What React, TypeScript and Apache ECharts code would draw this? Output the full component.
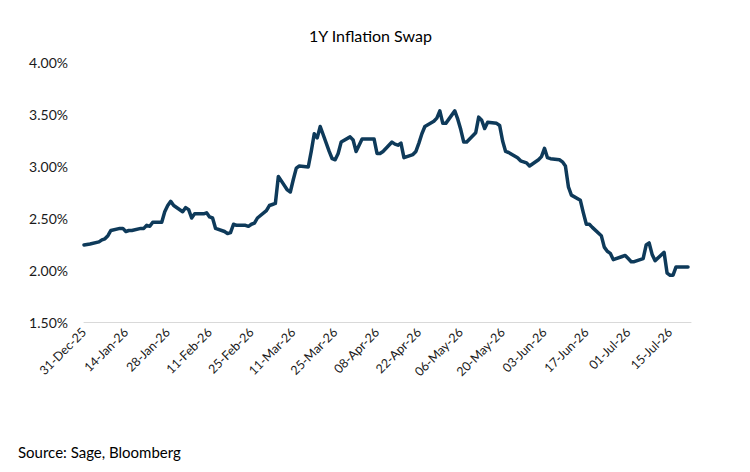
import React, { useEffect, useRef } from "react";
import * as echarts from "echarts";

// Axis range (calendar days) and trading calendar
const axisStart = "2025-12-31";
const axisEnd = "2026-07-22";
const dataEnd = "2026-07-21";
const holidays = ["2026-01-01"];

// 1Y inflation swap (%), one value per business day, grouped by month
const dec25 = [2.24];
const jan26 = [2.25, 2.27, 2.29, 2.3, 2.33, 2.38, 2.4, 2.4, 2.37, 2.38, 2.38, 2.4, 2.4, 2.43, 2.42, 2.46, 2.46, 2.56, 2.62, 2.66, 2.62];
const feb26 = [2.56, 2.6, 2.58, 2.5, 2.54, 2.54, 2.55, 2.51, 2.5, 2.4, 2.37, 2.35, 2.36, 2.44, 2.43, 2.43, 2.42, 2.44, 2.45, 2.5];
const mar26 = [2.57, 2.62, 2.63, 2.64, 2.9, 2.77, 2.75, 2.87, 2.98, 3.0, 2.99, 3.14, 3.31, 3.27, 3.38, 3.14, 3.07, 3.06, 3.12, 3.23, 3.28, 3.25];
const apr26 = [3.14, 3.2, 3.26, 3.26, 3.26, 3.12, 3.12, 3.14, 3.23, 3.21, 3.2, 3.22, 3.08, 3.11, 3.14, 3.22, 3.31, 3.38, 3.43, 3.46, 3.53, 3.41];
const may26 = [3.41, 3.53, 3.45, 3.35, 3.23, 3.23, 3.32, 3.47, 3.44, 3.36, 3.42, 3.41, 3.39, 3.24, 3.14, 3.13, 3.08, 3.05, 3.04, 3.03, 3.0];
const jun26 = [3.06, 3.09, 3.17, 3.08, 3.07, 3.06, 3.04, 3.0, 2.8, 2.72, 2.67, 2.55, 2.44, 2.44, 2.41, 2.33, 2.22, 2.18, 2.16, 2.1, 2.13, 2.14];
const jul26 = [2.11, 2.08, 2.08, 2.11, 2.24, 2.26, 2.15, 2.09, 2.17, 1.97, 1.95, 1.95, 2.03, 2.03, 2.03];

const yTicks = { min: 1.5, max: 4.0, interval: 0.5 };
const labelEveryDays = 14;

const MONTHS = ["Jan", "Feb", "Mar", "Apr", "May", "Jun", "Jul", "Aug", "Sep", "Oct", "Nov", "Dec"];
const DAY = 86400000;
const toTs = (s: string) => Date.parse(s + "T00:00:00Z");
const iso = (t: number) => new Date(t).toISOString().slice(0, 10);
const fmt = (t: number) => {
  const d = new Date(t);
  const dd = String(d.getUTCDate()).padStart(2, "0");
  return `${dd}-${MONTHS[d.getUTCMonth()]}-${String(d.getUTCFullYear()).slice(2)}`;
};

function buildSeries() {
  const values = [...dec25, ...jan26, ...feb26, ...mar26, ...apr26, ...may26, ...jun26, ...jul26];
  const bizDays: string[] = [];
  for (let t = toTs(axisStart); t <= toTs(dataEnd); t += DAY) {
    const wd = new Date(t).getUTCDay();
    const s = iso(t);
    if (wd === 0 || wd === 6 || holidays.includes(s)) continue;
    bizDays.push(s);
  }
  const map: Record<string, number> = {};
  bizDays.forEach((d, i) => {
    if (i < values.length) map[d] = values[i];
  });
  const cats: string[] = [];
  const data: (number | null)[] = [];
  for (let t = toTs(axisStart); t <= toTs(axisEnd); t += DAY) {
    cats.push(fmt(t));
    const v = map[iso(t)];
    data.push(v === undefined ? null : v);
  }
  return { cats, data };
}

export default function App() {
  const ref = useRef<HTMLDivElement>(null);
  useEffect(() => {
    if (!ref.current) return;
    const chart = echarts.init(ref.current, undefined, { renderer: "svg" });
    const { cats, data } = buildSeries();
    const font = "Lato, 'Open Sans', sans-serif";
    chart.setOption({
      animation: false,
      backgroundColor: "#ffffff",
      textStyle: { fontFamily: font },
      title: {
        text: "1Y Inflation Swap",
        left: 304,
        top: 22,
        textStyle: { fontFamily: font, fontSize: 16, fontWeight: "normal", color: "#000000" },
      },
      graphic: [
        {
          type: "text",
          left: 18,
          top: 444,
          style: { text: "Source: Sage, Bloomberg", font: `15px ${font}`, fill: "#000000" },
        },
      ],
      grid: { left: 84, right: 59, top: 62, bottom: 150, containLabel: false },
      xAxis: {
        type: "category",
        data: cats,
        boundaryGap: false,
        axisLine: { show: true, lineStyle: { color: "#d9d9d9", width: 1 } },
        axisTick: { show: false },
        axisLabel: {
          interval: (i: number) => i % labelEveryDays === 0,
          rotate: 45,
          fontSize: 12.5,
          fontFamily: font,
          color: "#1a1a1a",
          margin: 8,
        },
        splitLine: { show: false },
      },
      yAxis: {
        type: "value",
        min: yTicks.min,
        max: yTicks.max,
        interval: yTicks.interval,
        axisLine: { show: false },
        axisTick: { show: false },
        splitLine: { show: false },
        axisLabel: {
          formatter: (v: number) => v.toFixed(2) + "%",
          fontSize: 14,
          fontFamily: font,
          color: "#1a1a1a",
          margin: 16,
        },
      },
      series: [
        {
          type: "line",
          data,
          connectNulls: true,
          showSymbol: false,
          symbol: "none",
          lineStyle: { color: "#0e3a5a", width: 3.5, join: "round", cap: "round" },
        },
      ],
    });
    return () => chart.dispose();
  }, []);
  return (
    <div
      ref={ref}
      style={{ position: "fixed", left: 0, top: 0, width: 750, height: 472 }}
    />
  );
}
